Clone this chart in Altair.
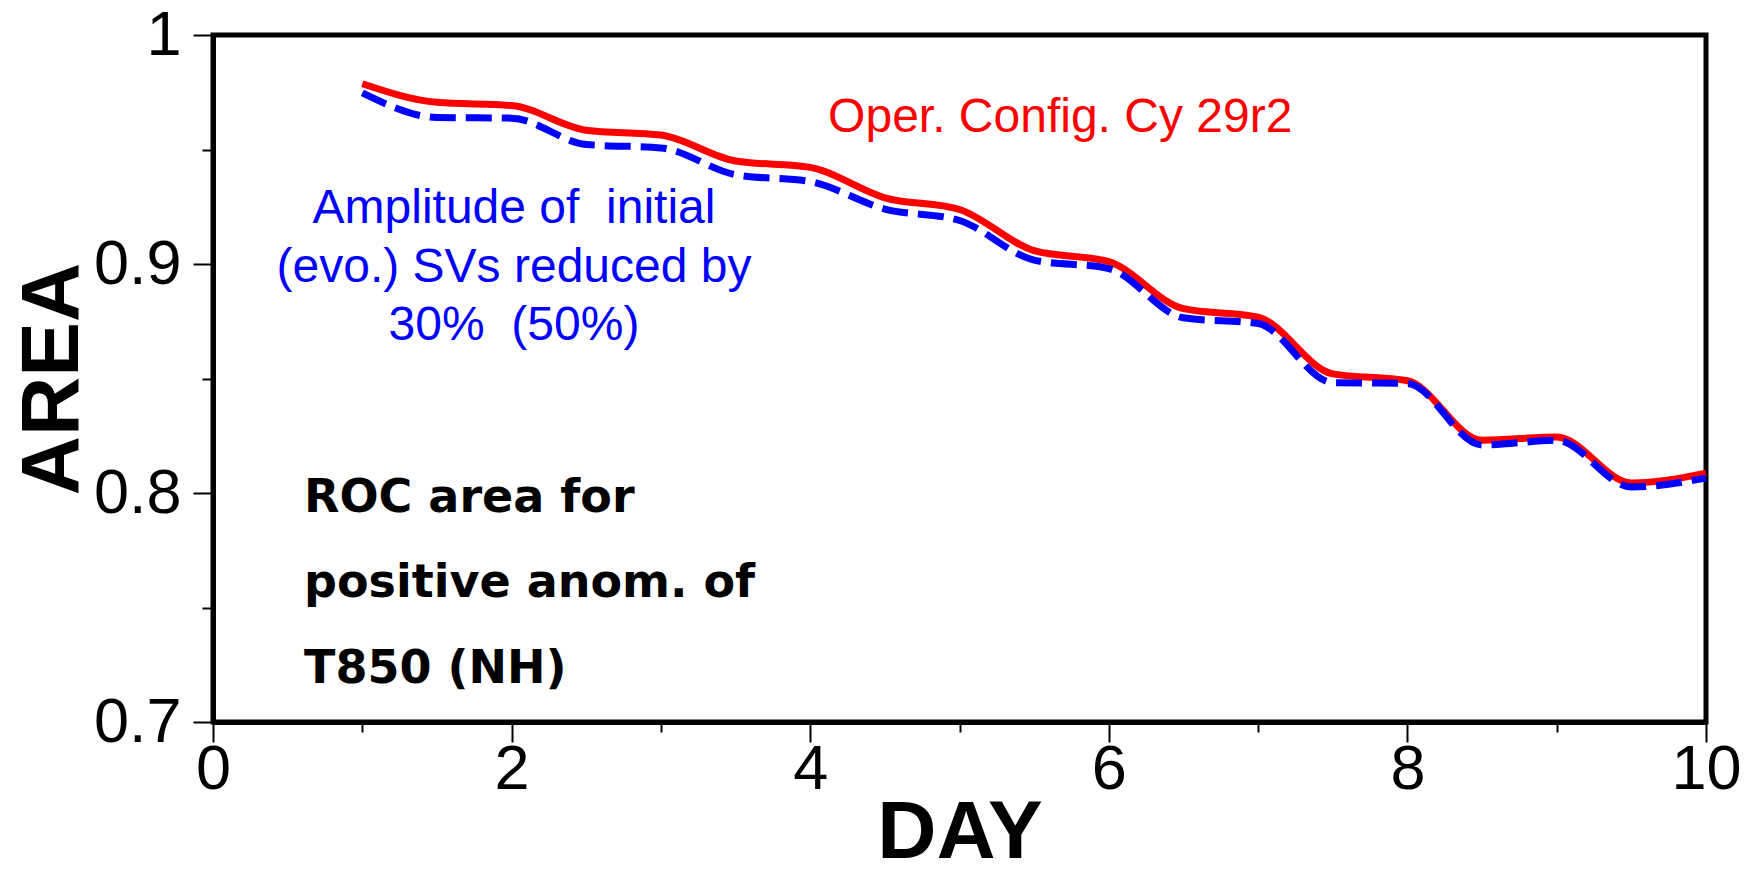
import altair as alt
import pandas as pd

# ---- data ----
days = [1.0, 1.5, 2.0, 2.5, 3.0, 3.5, 4.0, 4.5, 5.0, 5.5,
        6.0, 6.5, 7.0, 7.5, 8.0, 8.5, 9.0, 9.5, 10.0]
oper_cy29r2 = [0.9787, 0.9706, 0.9692, 0.9584, 0.9563, 0.9450, 0.9422, 0.9289, 0.9238, 0.9058,
               0.9010, 0.8805, 0.8768, 0.8520, 0.8490, 0.8230, 0.8245, 0.8044, 0.8087]
reduced_svs = [0.9747, 0.9640, 0.9637, 0.9522, 0.9507, 0.9390, 0.9360, 0.9240, 0.9190, 0.9017,
               0.8980, 0.8765, 0.8740, 0.8482, 0.8478, 0.8210, 0.8230, 0.8026, 0.8065]

x_major_ticks = [0, 2, 4, 6, 8, 10]
x_minor_ticks = [1, 3, 5, 7, 9]
y_major_ticks = [0.7, 0.8, 0.9, 1.0]
y_minor_ticks = [0.75, 0.85, 0.95]

red_label = ["Oper. Config. Cy 29r2"]
red_label_day = [4.12]
red_label_area = [0.9576]

blue_label = ["Amplitude of\u00a0\u00a0initial", "(evo.) SVs reduced by", "30%\u00a0\u00a0(50%)"]
blue_label_day = [2.016, 2.016, 2.016]
blue_label_area = [0.9179, 0.8923, 0.8668]

black_label = ["ROC area for", "positive anom. of", "T850 (NH)"]
black_label_day = [0.61, 0.61, 0.61]
black_label_area = [0.7917, 0.7546, 0.7170]

df = pd.DataFrame({"day": days, "oper": oper_cy29r2, "reduced": reduced_svs})
red_df = pd.DataFrame({"day": red_label_day, "area": red_label_area, "text": red_label})
blue_df = pd.DataFrame({"day": blue_label_day, "area": blue_label_area, "text": blue_label})
black_df = pd.DataFrame({"day": black_label_day, "area": black_label_area, "text": black_label})

W, H = 1493, 687
x_scale = alt.Scale(domain=[0, 10], nice=False, zero=False)
y_scale = alt.Scale(domain=[0.7, 1.0], nice=False, zero=False)

minor_x_axis = alt.Axis(orient="bottom", values=x_minor_ticks, tickSize=10, labels=False,
                        domain=False, grid=False, title="")
minor_y_axis = alt.Axis(orient="left", values=y_minor_ticks, tickSize=11, labels=False,
                        domain=False, grid=False, title="")

major_x_axis = alt.Axis(
    orient="bottom", values=x_major_ticks, tickSize=20, format="d",
    labelFont="Liberation Sans", labelFontSize=63, labelColor="black",
    labelPadding=-4, labelFlush=False, labelOverlap=False,
    domain=True, domainWidth=5, domainColor="black", grid=False,
    title="DAY", titleFont="Liberation Sans", titleFontSize=82, titleFontWeight="bold",
    titleColor="black", titleX=W / 2, titleY=135, titleBaseline="alphabetic", titleAlign="center",
)
major_y_axis = alt.Axis(
    orient="left", values=y_major_ticks, tickSize=20, format=".1~f",
    labelFont="Liberation Sans", labelFontSize=63, labelColor="black",
    labelPadding=12, labelFlush=False, labelOverlap=False,
    domain=True, domainWidth=5, domainColor="black", grid=False,
    title="AREA", titleFont="Liberation Sans", titleFontSize=82, titleFontWeight="bold",
    titleColor="black", titleAngle=270, titleX=-136, titleY=H / 2,
    titleBaseline="alphabetic", titleAlign="center",
)

red_line = alt.Chart(df).mark_line(color="#ff0000", strokeWidth=7, interpolate="monotone").encode(
    x=alt.X("day:Q", scale=x_scale, axis=minor_x_axis),
    y=alt.Y("oper:Q", scale=y_scale, axis=minor_y_axis),
)
blue_line = alt.Chart(df).mark_line(color="#0000ff", strokeWidth=7, strokeDash=[26, 10],
                                    interpolate="monotone").encode(
    x=alt.X("day:Q", scale=x_scale, axis=major_x_axis),
    y=alt.Y("reduced:Q", scale=y_scale, axis=major_y_axis),
)


def label_layer(data, color, font, size, weight, align):
    return alt.Chart(data).mark_text(
        align=align, baseline="alphabetic", font=font, fontSize=size,
        fontWeight=weight, color=color,
    ).encode(
        x=alt.X("day:Q", scale=x_scale, axis=None),
        y=alt.Y("area:Q", scale=y_scale, axis=None),
        text="text:N",
    )


red_text = label_layer(red_df, "#ff0000", "Liberation Sans", 48, "normal", "left")
blue_text = label_layer(blue_df, "#0000ff", "Liberation Sans", 48, "normal", "center")
black_text = label_layer(black_df, "black", "DejaVu Sans", 46, "bold", "left")

chart = alt.layer(red_line, blue_line, red_text, blue_text, black_text).resolve_axis(
    x="independent", y="independent"
).properties(
    width=W, height=H,
    padding={"left": 205, "top": 27, "right": 36, "bottom": 136},
    autosize=alt.AutoSizeParams(type="none"),
    background="white",
).configure_view(
    stroke="black", strokeWidth=5
).configure_axis(
    tickColor="black", tickWidth=2
)

chart.save("out.html", embed_options={"renderer": "svg", "actions": False})
